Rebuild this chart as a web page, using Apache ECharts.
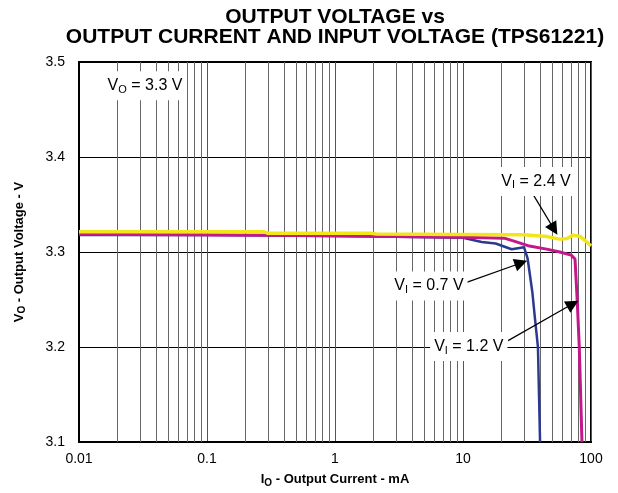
<!DOCTYPE html>
<html>
<head>
<meta charset="utf-8">
<script src="https://cdn.jsdelivr.net/npm/echarts@6/dist/echarts.min.js"></script>
<style>
  html, body { margin: 0; padding: 0; background: #fff; }
  #chart { width: 618px; height: 493px; }
</style>
</head>
<body>
<div id="chart"></div>
<script>
// values (current in mA, voltage in V)
var blueCurrent = [0.01, 0.1, 1, 3, 10, 14, 18, 24, 30, 32, 34.8, 36.5, 38.5, 40];
var blueVoltage = [3.318, 3.318, 3.317, 3.316, 3.315, 3.3105, 3.309, 3.303, 3.305, 3.293, 3.258, 3.23, 3.2, 3.1];

var magentaCurrent = [0.01, 0.3, 2, 10, 21, 26.5, 33, 45, 57, 70, 75, 78, 81, 85];
var magentaVoltage = [3.3187, 3.3177, 3.3167, 3.3157, 3.3146, 3.3105, 3.3063, 3.3031, 3.300, 3.2968, 3.2926, 3.25, 3.2, 3.1];

var yellowCurrent = [0.01, 0.28, 0.3, 1.9, 2.1, 10, 30, 45, 57, 65, 72, 82, 93, 100];
var yellowVoltage = [3.3213, 3.3213, 3.3197, 3.3197, 3.319, 3.3185, 3.3182, 3.3164, 3.3136, 3.3143, 3.3178, 3.3164, 3.3105, 3.3063];

var decades = [0.01, 0.1, 1, 10];
var minorSteps = [2, 3, 4, 5, 6, 7, 8, 9];

var font = "'Liberation Sans', Arial, sans-serif";

function pairs(xs, ys) {
    return xs.map(function (x, i) { return [x, ys[i]]; });
}

// vertical grid at 2..9 of each decade
var minorLines = [];
decades.forEach(function (d) {
    minorSteps.forEach(function (m) {
        minorLines.push({ xAxis: +(d * m).toPrecision(3) });
    });
});

var richText = {
    n: { fontSize: 16, fontFamily: font, color: '#000', lineHeight: 19 },
    s: { fontSize: 11, fontFamily: font, color: '#000', lineHeight: 19, padding: [8, 0, 0, 0] }
};
var richBold = {
    n: { fontSize: 13, fontWeight: 'bold', fontFamily: font, color: '#000', lineHeight: 16 },
    s: { fontSize: 10, fontWeight: 'bold', fontFamily: font, color: '#000', lineHeight: 16, padding: [7, 0, 0, 0] }
};

var notes = [
    { coord: [0.0328, 3.4749], text: '{n|V}{s|O}{n| = 3.3 V}' },
    { coord: [37.2, 3.3743], text: '{n|V}{s|I}{n| = 2.4 V}' },
    { coord: [5.42, 3.2644], text: '{n|V}{s|I}{n| = 0.7 V}' },
    { coord: [11.1, 3.2005], text: '{n|V}{s|I}{n| = 1.2 V}' }
];

var arrows = [
    [[33.4, 3.366], [51.4, 3.3241]],
    [[10.4, 3.2675], [28.4, 3.2885]],
    [[22.5, 3.2068], [72.1, 3.2455]]
];

var option = {
    animation: false,
    backgroundColor: '#fff',
    title: {
        text: 'OUTPUT VOLTAGE vs\nOUTPUT CURRENT AND INPUT VOLTAGE (TPS61221)',
        left: 335,
        top: 7,
        padding: 0,
        textAlign: 'center',
        textStyle: {
            fontFamily: font,
            fontSize: 21,
            fontWeight: 'bold',
            lineHeight: 20,
            color: '#000'
        }
    },
    grid: {
        left: 79,
        right: 27,
        top: 62,
        bottom: 49,
        show: true,
        borderColor: '#000',
        borderWidth: 2
    },
    xAxis: {
        type: 'log',
        logBase: 10,
        min: 0.01,
        max: 100,
        name: '{n|I}{s|O}{n| - Output Current - mA}',
        nameLocation: 'middle',
        nameGap: 23,
        nameTextStyle: { rich: richBold },
        axisLine: { lineStyle: { color: '#000', width: 2 } },
        axisTick: { show: false },
        axisLabel: {
            margin: 10,
            fontFamily: font,
            fontSize: 14,
            color: '#000',
            formatter: function (v) { return String(+v.toPrecision(6)); }
        },
        splitLine: { show: true, lineStyle: { color: '#555', width: 1 } }
    },
    yAxis: {
        type: 'value',
        min: 3.1,
        max: 3.5,
        interval: 0.1,
        name: '{n|V}{s|O}{n| - Output Voltage - V}',
        nameLocation: 'middle',
        nameGap: 52,
        nameTextStyle: { rich: richBold },
        axisLine: { show: true, lineStyle: { color: '#000', width: 2 } },
        axisTick: { show: false },
        axisLabel: {
            margin: 14,
            fontFamily: font,
            fontSize: 14,
            color: '#000',
            formatter: function (v) { return v.toFixed(1); }
        },
        splitLine: { show: true, lineStyle: { color: '#000', width: 1 } }
    },
    series: [
        {
            name: 'grid',
            type: 'line',
            data: [],
            silent: true,
            markLine: {
                z: 1,
                silent: true,
                symbol: ['none', 'none'],
                label: { show: false },
                lineStyle: { color: '#666', width: 1, type: 'solid' },
                data: minorLines
            }
        },
        {
            name: 'VI = 0.7 V',
            type: 'line',
            data: pairs(blueCurrent, blueVoltage),
            showSymbol: false,
            lineStyle: { color: '#2B3990', width: 2.5 },
            itemStyle: { color: '#2B3990' }
        },
        {
            name: 'VI = 1.2 V',
            type: 'line',
            data: pairs(magentaCurrent, magentaVoltage),
            showSymbol: false,
            lineStyle: { color: '#C4178A', width: 3 },
            itemStyle: { color: '#C4178A' }
        },
        {
            name: 'VI = 2.4 V',
            type: 'line',
            data: pairs(yellowCurrent, yellowVoltage),
            showSymbol: false,
            lineStyle: { color: '#F2E51A', width: 3.5 },
            itemStyle: { color: '#F2E51A' }
        },
        {
            name: 'notes',
            type: 'line',
            data: [],
            silent: true,
            itemStyle: { color: '#000' },
            markLine: {
                silent: true,
                symbol: ['none', 'triangle'],
                symbolSize: 13,
                label: { show: false },
                lineStyle: { color: '#000', width: 1.2, type: 'solid' },
                itemStyle: { color: '#000' },
                data: arrows.map(function (a) {
                    return [{ coord: a[0] }, { coord: a[1], symbol: 'triangle', symbolSize: 13 }];
                })
            },
            markPoint: {
                silent: true,
                symbol: 'rect',
                symbolSize: 1,
                itemStyle: { color: 'rgba(0,0,0,0)' },
                label: {
                    show: true,
                    position: 'inside',
                    backgroundColor: '#fff',
                    padding: [5, 4, 5, 4],
                    rich: richText
                },
                data: notes.map(function (n) {
                    return { coord: n.coord, label: { formatter: n.text } };
                })
            }
        }
    ]
};

var myChart = echarts.init(document.getElementById('chart'));
myChart.setOption(option);
</script>
</body>
</html>
